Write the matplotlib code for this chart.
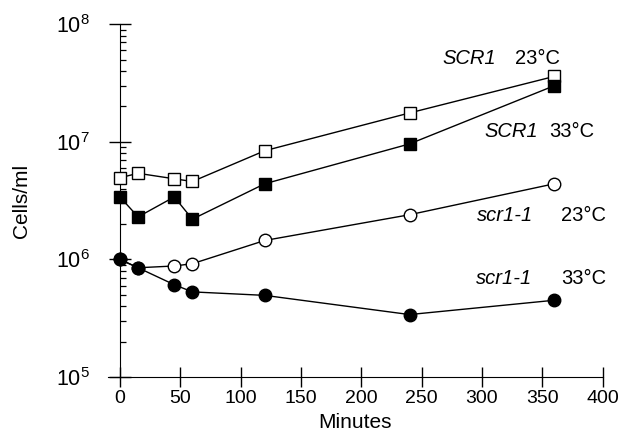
import matplotlib
matplotlib.use('Agg')
import matplotlib.pyplot as plt
from matplotlib.ticker import LogLocator, FixedLocator, NullFormatter

plt.rcParams['font.family'] = 'Liberation Sans'
plt.rcParams['mathtext.fontset'] = 'custom'
plt.rcParams['mathtext.rm'] = 'Liberation Sans'

# data
minutes = [0, 15, 45, 60, 120, 240, 360]
scr1_23 = [4.95e6, 5.4e6, 4.85e6, 4.6e6, 8.4e6, 1.76e7, 3.6e7]
scr1_33 = [3.4e6, 2.3e6, 3.4e6, 2.2e6, 4.4e6, 9.6e6, 3.0e7]
mut_23 = [1.0e6, 8.5e5, 8.8e5, 9.2e5, 1.45e6, 2.4e6, 4.4e6]
mut_33 = [1.0e6, 8.5e5, 6.1e5, 5.3e5, 4.95e5, 3.4e5, 4.5e5]

xticks = [0, 50, 100, 150, 200, 250, 300, 350, 400]
yticks = [1e5, 1e6, 1e7, 1e8]
ytick_labels = [r'$10^{5}$', r'$10^{6}$', r'$10^{7}$', r'$10^{8}$']

# series labels: name, temperature, left x, right x, y
label_names = ['SCR1', 'SCR1', 'scr1-1', 'scr1-1']
label_temps = ['23°C', '33°C', '23°C', '33°C']
label_x0 = [267, 302, 296, 295]
label_x1 = [365, 393, 403, 403]
label_y = [5.1e7, 1.23e7, 2.35e6, 6.9e5]

fig = plt.figure(figsize=(6.31, 4.40), dpi=100)
ax = fig.add_axes([0.171, 0.143, 0.784, 0.802])

lk = dict(color='black', linewidth=1.0)
ax.plot(minutes, mut_23, 'o-', markersize=9, markerfacecolor='white',
        markeredgecolor='black', markeredgewidth=1.0, zorder=2, **lk)
ax.plot(minutes, mut_33, 'o-', markersize=9, markerfacecolor='black',
        markeredgecolor='black', zorder=3, **lk)
ax.plot(minutes, scr1_23, 's-', markersize=8, markerfacecolor='white',
        markeredgecolor='black', markeredgewidth=1.0, zorder=3, **lk)
ax.plot(minutes, scr1_33, 's-', markersize=8, markerfacecolor='black',
        markeredgecolor='black', zorder=3, **lk)

ax.set_yscale('log')
ax.set_xlim(-10, 400)
ax.set_ylim(1e5, 1e8)

ax.spines['top'].set_visible(False)
ax.spines['right'].set_visible(False)
ax.spines['left'].set_position(('data', 0))

ax.xaxis.set_major_locator(FixedLocator(xticks))
ax.set_xticklabels([str(t) for t in xticks])
ax.yaxis.set_major_locator(FixedLocator(yticks))
ax.set_yticklabels(ytick_labels)
ax.yaxis.set_minor_locator(LogLocator(base=10, subs=range(2, 10)))
ax.yaxis.set_minor_formatter(NullFormatter())

ax.tick_params(axis='x', which='major', direction='inout', length=15, width=1,
               labelsize=14, pad=2)
ax.tick_params(axis='y', which='major', direction='inout', length=16, width=1,
               labelsize=15.5, pad=14)
ax.tick_params(axis='y', which='minor', direction='in', length=4, width=0.9)

ax.set_xlabel('Minutes', fontsize=15, labelpad=4)
ax.set_ylabel('Cells/ml', fontsize=15)
ax.yaxis.set_label_coords(-0.155, 0.5)

for name, temp, x0, x1, yv in zip(label_names, label_temps, label_x0, label_x1, label_y):
    ax.text(x0, yv, name, style='italic', fontsize=14.5, ha='left', va='center')
    ax.text(x1, yv, temp, fontsize=14.5, ha='right', va='center')

plt.savefig('out.png', dpi=100)
